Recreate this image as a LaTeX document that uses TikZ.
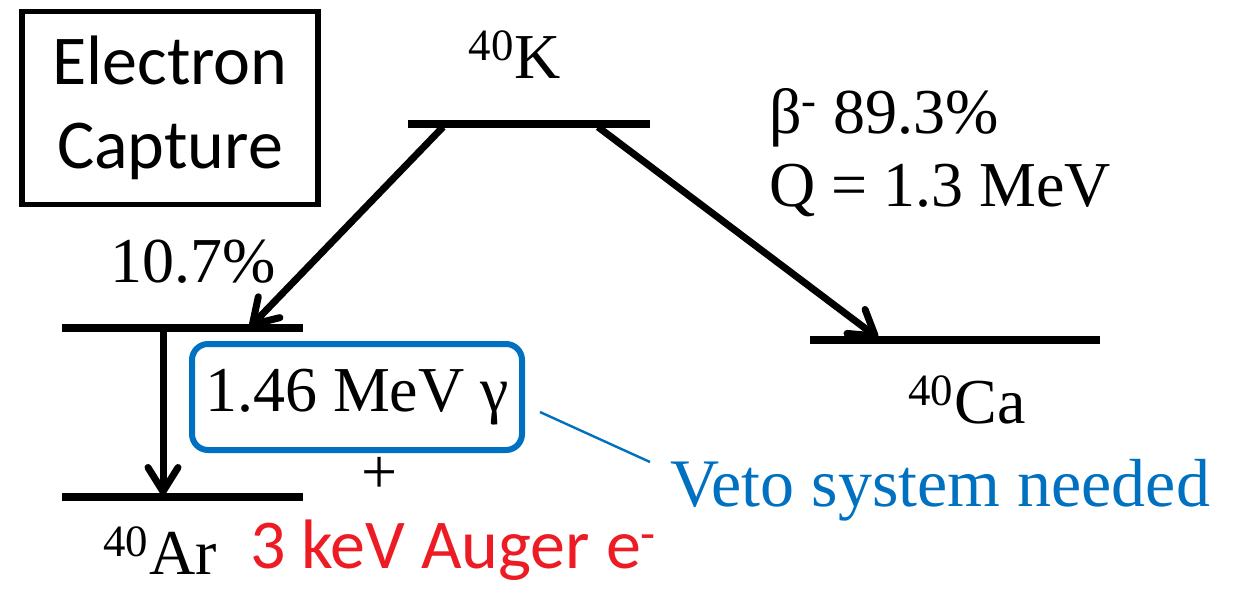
\documentclass[tikz,border=0pt]{standalone}
\usepackage{fontspec}
\setmainfont{Liberation Serif}
\newfontfamily\capfont{Carlito}
\usetikzlibrary{arrows.meta}
\definecolor{vetoblue}{RGB}{0,112,192}
\definecolor{augerred}{RGB}{237,28,36}
\begin{document}
\begin{tikzpicture}[x=0.5pt,y=-0.5pt,line width=4pt,
  level/.style={line width=4.2pt},
  decay/.style={line width=3.5pt,-{Straight Barb[length=12pt,width=15pt,round]}},
  every node/.style={font=\fontsize{32}{36}\selectfont,inner sep=0pt}]
\useasboundingbox (0,0) rectangle (1234,589);
% levels
\coordinate (K1) at (408,124);
\coordinate (K2) at (650,124);
\coordinate (Ars1) at (62,328);
\coordinate (Ars2) at (303,328);
\coordinate (Ar1) at (62,497);
\coordinate (Ar2) at (303,497);
\coordinate (Ca1) at (810,340);
\coordinate (Ca2) at (1100,340);
\draw[level] (K1) -- (K2);
\draw[level] (Ars1) -- (Ars2);
\draw[level] (Ar1) -- (Ar2);
\draw[level] (Ca1) -- (Ca2);
% transitions
\coordinate (ecA) at (443,127);
\coordinate (ecB) at (250,327);
\coordinate (btA) at (598,127);
\coordinate (btB) at (878,338);
\coordinate (gmA) at (163,330);
\coordinate (gmB) at (163,495);
\draw[decay] (ecA) -- (ecB);
\draw[decay] (btA) -- (btB);
\draw[decay] (gmA) -- (gmB);
% labels
\node[draw,line width=2.6pt,minimum width=148pt,minimum height=96.5pt,align=center,
  font=\capfont\fontsize{35}{42}\selectfont] (ec) at (170,108) {Electron\\Capture};
\node (K) at (515,55) {\textsuperscript{40}K};
\node (ecpct) at (193,262) {10.7\%};
\node[anchor=west] (beta) at (765,118) {β\textsuperscript{-} 89.3\%};
\node[anchor=west] (qval) at (765,190) {Q = 1.3 MeV};
\node[draw=vetoblue,line width=3pt,rounded corners=8pt,minimum width=165pt,
  minimum height=53pt] (gamma) at (357,397) {1.46 MeV γ};
\node (plus) at (380,475) {+};
\node (Ar) at (160,551) {\textsuperscript{40}Ar};
\node[anchor=west,text=augerred,font=\capfont\fontsize{35}{38}\selectfont] (auger) at (246,550) {3 keV Auger e\textsuperscript{-}};
\node (Ca) at (967,400) {\textsuperscript{40}Ca};
\node[anchor=west,text=vetoblue,font=\fontsize{34}{38}\selectfont] (veto) at (666,490) {Veto system needed};
\coordinate (vtA) at (540,412);
\coordinate (vtB) at (650,462);
\draw[vetoblue,line width=1.2pt] (vtA) -- (vtB);
\end{tikzpicture}
\end{document}
